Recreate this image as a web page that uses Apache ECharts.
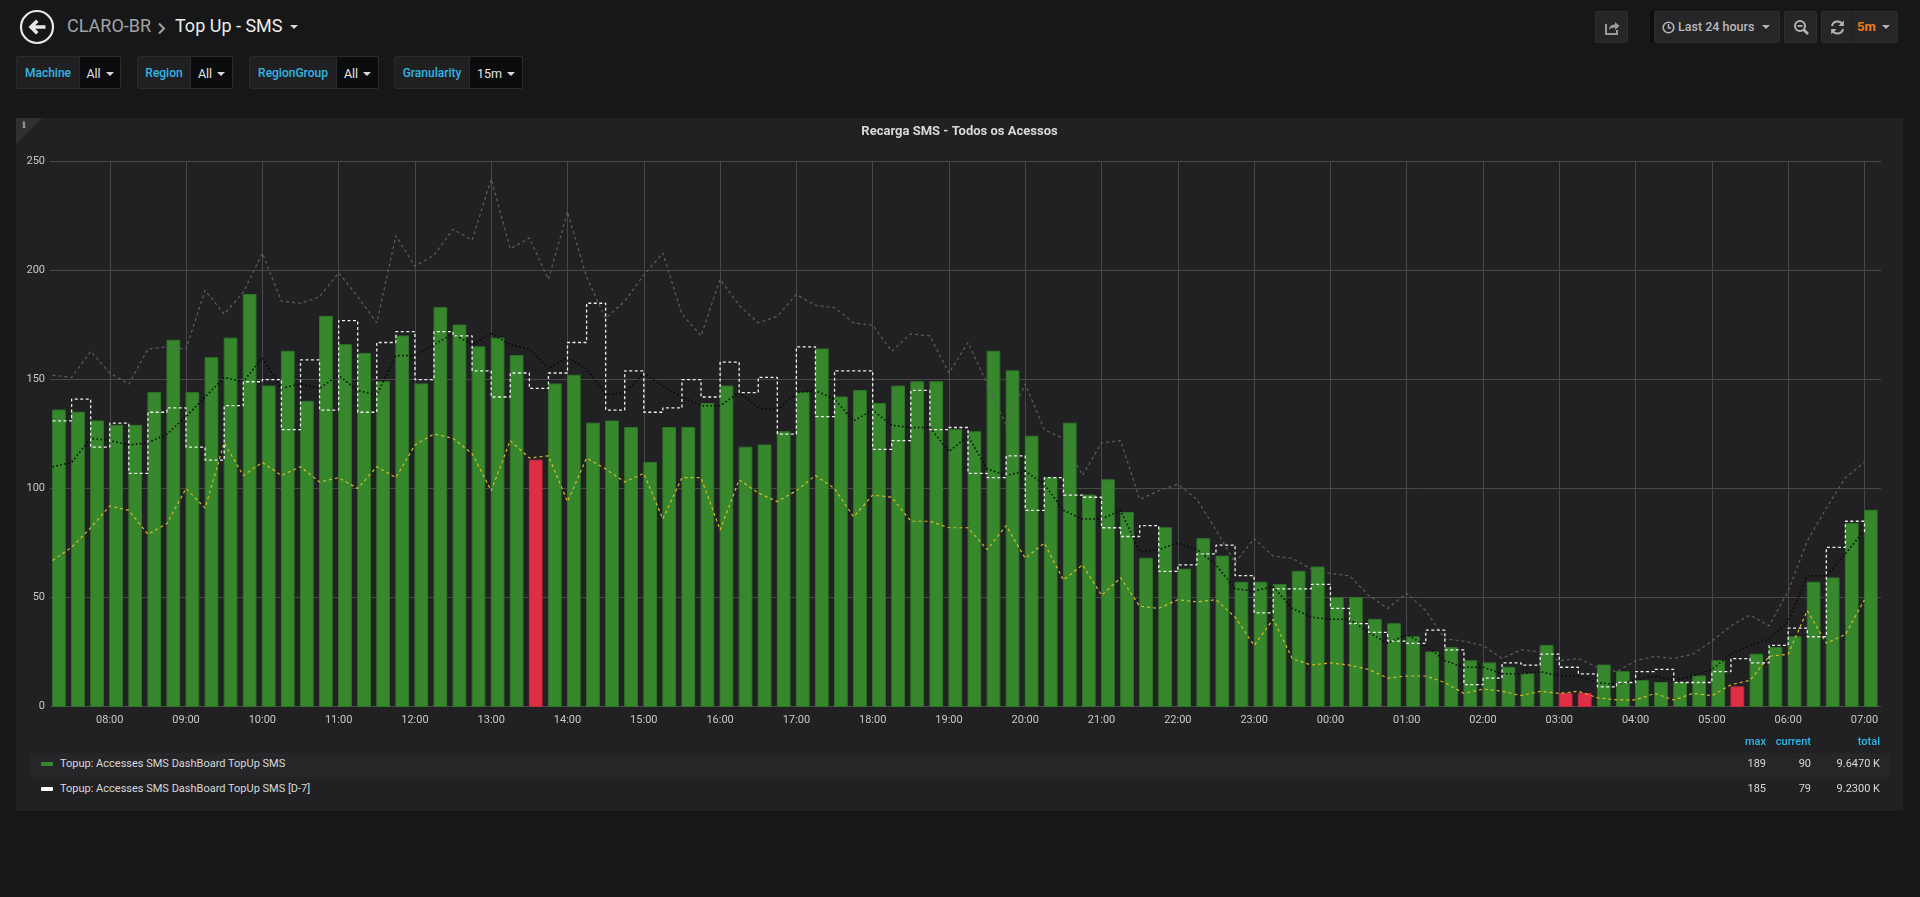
<!DOCTYPE html>
<html>
<head>
<meta charset="utf-8">
<script src="https://cdn.jsdelivr.net/npm/echarts@6/dist/echarts.min.js"></script>
<style>
  html,body{margin:0;padding:0;}
  body{background:#161719;width:1920px;height:897px;overflow:hidden;position:relative;font-family:Roboto,"Helvetica Neue",Arial,sans-serif;}
  .abs{position:absolute;}
  .crumb{position:absolute;top:14px;font-size:18px;line-height:24px;white-space:nowrap;}
  .vl{position:absolute;top:56px;height:33px;line-height:33px;box-sizing:border-box;background:#202023;border:1px solid #2b2b2e;color:#33b5e5;font-size:12px;font-weight:500;text-align:center;border-radius:2px 0 0 2px;}
  .vv{position:absolute;top:56px;height:33px;line-height:33px;box-sizing:border-box;background:#0b0c0e;border:1px solid #2b2b2e;border-left:none;color:#e3e3e3;font-size:12.5px;text-align:center;border-radius:0 2px 2px 0;}
  .caret{display:inline-block;width:0;height:0;border-left:4px solid transparent;border-right:4px solid transparent;border-top:4px solid #d8d8d8;vertical-align:middle;margin-left:5px;margin-top:-2px;}
  .btn{position:absolute;top:11px;height:32px;box-sizing:border-box;background:#262628;border:1px solid #2e2e31;border-radius:2px;}
  #panel{position:absolute;left:16px;top:118px;width:1887px;height:693px;background:#212124;}
  #chart{position:absolute;left:16px;top:118px;width:1887px;height:620px;}
  .lg{position:absolute;font-size:11px;line-height:14px;white-space:nowrap;color:#d8d9da;}
  .hd{color:#33b5e5;font-weight:500;}
  .r{text-align:right;}
</style>
</head>
<body>
<!-- header -->
<div class="abs" style="left:19px;top:9px;width:36px;height:36px;">
  <svg width="36" height="36" viewBox="0 0 36 36">
    <circle cx="18" cy="18" r="16" fill="none" stroke="#e8e8e8" stroke-width="2.2"/>
    <path d="M9.5 18 L17 10.5 L19.5 13 L16.2 16.2 L26.5 16.2 L26.5 19.8 L16.2 19.8 L19.5 23 L17 25.5 Z" fill="#e8e8e8"/>
  </svg>
</div>
<div class="crumb" style="left:67px;color:#a3a3a6;">CLARO-BR</div>
<div class="abs" style="left:157px;top:20px;">
  <svg width="9" height="13" viewBox="0 0 9 13"><path d="M2 1.5 L7 6.5 L2 11.5" fill="none" stroke="#a3a3a6" stroke-width="2"/></svg>
</div>
<div class="crumb" style="left:175px;color:#ececec;">Top Up - SMS</div>
<div class="abs" style="left:290px;top:25px;width:0;height:0;border-left:4px solid transparent;border-right:4px solid transparent;border-top:4px solid #d8d8d8;"></div>

<!-- variables -->
<div class="vl" style="left:16px;width:64px;">Machine</div>
<div class="vv" style="left:80px;width:41px;">All<span class="caret"></span></div>
<div class="vl" style="left:137px;width:54px;">Region</div>
<div class="vv" style="left:191px;width:42px;">All<span class="caret"></span></div>
<div class="vl" style="left:249px;width:88px;">RegionGroup</div>
<div class="vv" style="left:337px;width:42px;">All<span class="caret"></span></div>
<div class="vl" style="left:394px;width:76px;">Granularity</div>
<div class="vv" style="left:470px;width:53px;">15m<span class="caret"></span></div>

<!-- top right buttons -->
<div class="btn" style="left:1595px;width:33px;">
  <svg class="abs" style="left:8px;top:7px;" width="17" height="17" viewBox="0 0 17 17">
    <path d="M2 5 L2 15 L13 15 L13 11" fill="none" stroke="#9a9a9c" stroke-width="2"/>
    <path d="M5 11 C5 7 8 5.5 11 5.5 L11 3 L15.5 7 L11 11 L11 8.5 C8.5 8.5 6.5 9.2 5 11 Z" fill="#9a9a9c"/>
  </svg>
</div>
<div class="abs" style="left:1650px;top:11px;width:5px;height:32px;background:#0e0e10;"></div>
<div class="btn" style="left:1654px;width:126px;">
  <svg class="abs" style="left:7px;top:9px;" width="13" height="13" viewBox="0 0 13 13">
    <circle cx="6.5" cy="6.5" r="5.3" fill="none" stroke="#b4b4b6" stroke-width="1.6"/>
    <path d="M6.5 3 L6.5 7 L9 7" fill="none" stroke="#b4b4b6" stroke-width="1.5"/>
  </svg>
  <div class="abs" style="left:23px;top:0;line-height:30px;font-size:12.5px;font-weight:500;color:#b9b9bb;white-space:nowrap;">Last 24 hours</div>
  <div class="abs" style="left:107px;top:13px;width:0;height:0;border-left:4px solid transparent;border-right:4px solid transparent;border-top:4px solid #b4b4b6;"></div>
</div>
<div class="btn" style="left:1784px;width:33px;">
  <svg class="abs" style="left:8px;top:7px;" width="17" height="17" viewBox="0 0 17 17">
    <circle cx="7" cy="7" r="5" fill="none" stroke="#b4b4b6" stroke-width="2"/>
    <path d="M4.5 7 L9.5 7" stroke="#b4b4b6" stroke-width="1.8"/>
    <path d="M10.5 10.5 L15 15" stroke="#b4b4b6" stroke-width="2.6"/>
  </svg>
</div>
<div class="btn" style="left:1821px;width:77px;">
  <svg class="abs" style="left:7px;top:7px;" width="17" height="17" viewBox="0 0 17 17">
    <path d="M3 7 A5.6 5.6 0 0 1 13.3 5.2" fill="none" stroke="#b4b4b6" stroke-width="2"/>
    <path d="M14.8 1.5 L14.8 7 L9.5 7 Z" fill="#b4b4b6"/>
    <path d="M14 10 A5.6 5.6 0 0 1 3.7 11.8" fill="none" stroke="#b4b4b6" stroke-width="2"/>
    <path d="M2.2 15.5 L2.2 10 L7.5 10 Z" fill="#b4b4b6"/>
  </svg>
  <div class="abs" style="left:29px;top:0;width:1px;height:30px;background:#1c1c1e;"></div>
  <div class="abs" style="left:35px;top:0;line-height:30px;font-size:13px;font-weight:bold;color:#eb7b18;">5m</div>
  <div class="abs" style="left:60px;top:13px;width:0;height:0;border-left:4px solid transparent;border-right:4px solid transparent;border-top:4px solid #b4b4b6;"></div>
</div>

<!-- panel -->
<div id="panel">
  <div class="abs" style="left:0;top:0;width:0;height:0;border-top:26px solid #303033;border-right:26px solid transparent;"></div>
  <div class="abs" style="left:6px;top:1px;font-size:10px;font-weight:bold;color:#a0a0a2;font-family:'DejaVu Serif',serif;">i</div>
</div>
<div id="chart"></div>
<div id="legend"></div>

<script>
// ---------------- data ----------------
const timeLabels = [
 '07:15','07:30','07:45','08:00','08:15','08:30','08:45','09:00','09:15','09:30','09:45','10:00',
 '10:15','10:30','10:45','11:00','11:15','11:30','11:45','12:00','12:15','12:30','12:45','13:00',
 '13:15','13:30','13:45','14:00','14:15','14:30','14:45','15:00','15:15','15:30','15:45','16:00',
 '16:15','16:30','16:45','17:00','17:15','17:30','17:45','18:00','18:15','18:30','18:45','19:00',
 '19:15','19:30','19:45','20:00','20:15','20:30','20:45','21:00','21:15','21:30','21:45','22:00',
 '22:15','22:30','22:45','23:00','23:15','23:30','23:45','00:00','00:15','00:30','00:45','01:00',
 '01:15','01:30','01:45','02:00','02:15','02:30','02:45','03:00','03:15','03:30','03:45','04:00',
 '04:15','04:30','04:45','05:00','05:15','05:30','05:45','06:00','06:15','06:30','06:45','07:00'
];
const accesses = [
 136,135,131,129,129,144,168,144,160,169,189,147,163,140,179,166,162,149,170,148,183,175,165,169,
 161,113,148,152,130,131,128,112,128,128,139,147,119,120,126,144,164,142,145,139,147,149,149,127,
 126,163,154,124,105,130,97,104,89,68,82,63,77,69,57,57,56,62,64,50,50,40,38,32,
 25,27,21,20,18,15,28,6,6,19,16,12,11,11,14,21,9,24,27,32,57,59,84,90
];
const accessesD7 = [
 131,141,119,130,107,135,137,119,113,138,149,150,127,159,136,177,135,167,172,150,172,170,154,142,
 153,146,153,167,185,136,154,135,137,150,142,158,144,151,125,165,133,154,154,118,122,145,127,128,
 107,105,115,90,105,97,96,82,78,83,62,65,70,74,60,43,54,54,56,45,38,34,30,29,
 35,26,10,13,20,19,24,18,15,9,11,16,17,11,11,16,22,20,28,36,32,73,85,79
];
const upperBand = [
 152,151,163,153,148,164,165,164,191,180,190,208,186,185,188,199,188,176,216,202,207,219,214,242,
 210,215,196,227,197,178,186,198,208,180,170,196,184,176,179,189,184,183,176,175,163,171,170,153,
 167,148,129,148,127,123,106,121,122,95,99,102,95,81,66,77,69,68,63,61,60,51,45,52,
 44,31,30,28,22,26,25,21,22,18,16,21,23,22,24,30,37,42,37,53,76,91,105,112
];
const movingAvg = [
 110,112,123,122,120,121,125,133,142,151,149,160,146,148,146,152,145,143,161,161,166,171,166,171,
 166,164,155,160,155,143,144,153,147,142,138,138,144,137,136,144,145,141,131,136,129,128,128,117,
 124,109,106,108,102,90,86,86,90,71,72,75,72,65,54,53,55,45,41,40,40,34,29,33,
 28,21,18,18,15,15,16,14,14,11,10,12,14,12,14,17,24,28,31,39,60,60,70,81
];
const lowerBand = [
 67,73,82,92,90,79,84,100,91,121,106,112,106,110,103,105,100,110,105,120,125,123,116,99,
 122,114,115,94,114,109,103,107,86,105,105,81,104,98,94,99,106,100,87,97,96,85,85,82,
 82,72,83,68,75,58,65,51,59,46,45,49,48,49,41,28,40,22,19,20,19,17,13,14,
 14,11,6,8,7,5,7,6,7,4,3,3,6,3,6,5,10,12,23,24,44,29,33,49
];
const alertTimes = ['13:30','03:00','03:15','05:15'];
const seriesNames = ['Topup: Accesses SMS DashBoard TopUp SMS','Topup: Accesses SMS DashBoard TopUp SMS [D-7]'];
const legendColumns = ['max','current','total'];
const rangeFrom = '07:13';   // last 24 hours window start
const rangeTo = '07:13';     // next day
const yMin = 0, yMax = 250, yStep = 50;

// ---------------- build ----------------
const DAY0 = Date.UTC(2019, 5, 10);
const MIN = 60000, HOUR = 3600000, DAY = 86400000;
function hm(s){ const p = s.split(':').map(Number); return p[0]*60 + p[1]; }
const ts = (function(){ let day = 0, prev = -1; return timeLabels.map(function(s){ const m = hm(s); if (m < prev) day++; prev = m; return DAY0 + day*DAY + m*MIN; }); })();
const tFrom = DAY0 + hm(rangeFrom)*MIN;
const tTo = DAY0 + DAY + hm(rangeTo)*MIN;
const barSpan = 10*MIN;
const GREEN = '#37872D', RED = '#E02F44';

function pad(n){ return (n < 10 ? '0' : '') + n; }
function pairs(arr){ return arr.map(function(v,i){ return [ts[i], v]; }); }

const chart = echarts.init(document.getElementById('chart'), null, {renderer:'canvas'});
const gridColor = '#48484b';
chart.setOption({
  useUTC: true,
  animation: false,
  backgroundColor: 'transparent',
  title: {
    text: 'Recarga SMS - Todos os Acessos', left: 'center', top: 2,
    textStyle: {color:'#d8d9da', fontSize:13, fontWeight:'bold', fontFamily:'Roboto'}
  },
  grid: {left: 34, right: 22, top: 43.6, bottom: 31.5, containLabel: false},
  xAxis: {
    type: 'time', min: tFrom, max: tTo,
    minInterval: HOUR, maxInterval: HOUR, splitNumber: 24,
    axisLine: {show:false}, axisTick: {show:false},
    axisLabel: {
      color:'#c8c9ca', fontSize:11, fontFamily:'Roboto', margin: 8,
      showMinLabel:false, showMaxLabel:false,
      formatter: function(v){ const d = new Date(v); return pad(d.getUTCHours()) + ':' + pad(d.getUTCMinutes()); }
    },
    splitLine: {show:true, showMinLine:false, showMaxLine:false, lineStyle:{color:gridColor, width:1}}
  },
  yAxis: {
    type: 'value', min: yMin, max: yMax, interval: yStep,
    axisLine: {show:false}, axisTick: {show:false},
    axisLabel: {color:'#c8c9ca', fontSize:11, fontFamily:'Roboto', margin: 5},
    splitLine: {show:true, lineStyle:{color:gridColor, width:1}}
  },
  series: [
    {
      name: seriesNames[0], type: 'custom', z: 2,
      data: accesses.map(function(v,i){ return [ts[i], v, alertTimes.indexOf(timeLabels[i]) >= 0 ? 1 : 0]; }),
      encode: {x:0, y:1},
      renderItem: function(params, api){
        const t = api.value(0), v = api.value(1);
        const p0 = api.coord([t, v]);
        const p1 = api.coord([t + barSpan, 0]);
        const fill = api.value(2) ? RED : GREEN;
        return {type:'rect', shape:{x:p0[0], y:p0[1], width:p1[0]-p0[0], height:p1[1]-p0[1]},
                style:{fill: fill, stroke: api.value(2) ? '#c42a3c' : '#2f7527', lineWidth: 1}};
      }
    },
    {
      name: 'upper', type: 'line', z: 3, data: pairs(upperBand), symbol: 'none',
      lineStyle: {color:'#5e5e60', width:1.2, type:[3,3]}
    },
    {
      name: 'avg', type: 'line', z: 4, data: pairs(movingAvg), symbol: 'none',
      lineStyle: {color:'#060606', width:1.6, type:[1.5,2.5]}
    },
    {
      name: 'lower', type: 'line', z: 5, data: pairs(lowerBand), symbol: 'none',
      lineStyle: {color:'#d6bb2c', width:1.2, type:[3,3]}
    },
    {
      name: seriesNames[1], type: 'line', z: 6, data: pairs(accessesD7), symbol: 'none', step: 'end',
      lineStyle: {color:'#f0f0f0', width:1.3, type:[3,2.5]}
    }
  ]
});

// ---------------- legend table ----------------
function stats(arr){
  const max = Math.max.apply(null, arr);
  const cur = arr[arr.length-1];
  const tot = arr.reduce(function(a,b){ return a+b; }, 0);
  return [String(max), String(cur), (tot/1000).toFixed(4) + ' K'];
}
const colRight = [1766, 1811, 1880];
const lg = document.getElementById('legend');
let html = '';
legendColumns.forEach(function(c, k){
  html += '<div class="lg hd r" style="right:' + (1920-colRight[k]) + 'px;top:735px;">' + c + '</div>';
});
html += '<div class="abs" style="left:31px;top:753px;width:1859px;height:24px;background:#262629;"></div>';
const rows = [
  {name: seriesNames[0], data: accesses, color: GREEN, y: 764},
  {name: seriesNames[1], data: accessesD7, color: '#ffffff', y: 788.5}
];
rows.forEach(function(r){
  html += '<div class="abs" style="left:41px;top:' + (r.y-2) + 'px;width:12px;height:4px;border-radius:1px;background:' + r.color + ';"></div>';
  html += '<div class="lg" style="left:60px;top:' + (r.y-7) + 'px;">' + r.name + '</div>';
  stats(r.data).forEach(function(s, k){
    html += '<div class="lg r" style="right:' + (1920-colRight[k]) + 'px;top:' + (r.y-7) + 'px;">' + s + '</div>';
  });
});
lg.innerHTML = html;
</script>
</body>
</html>
